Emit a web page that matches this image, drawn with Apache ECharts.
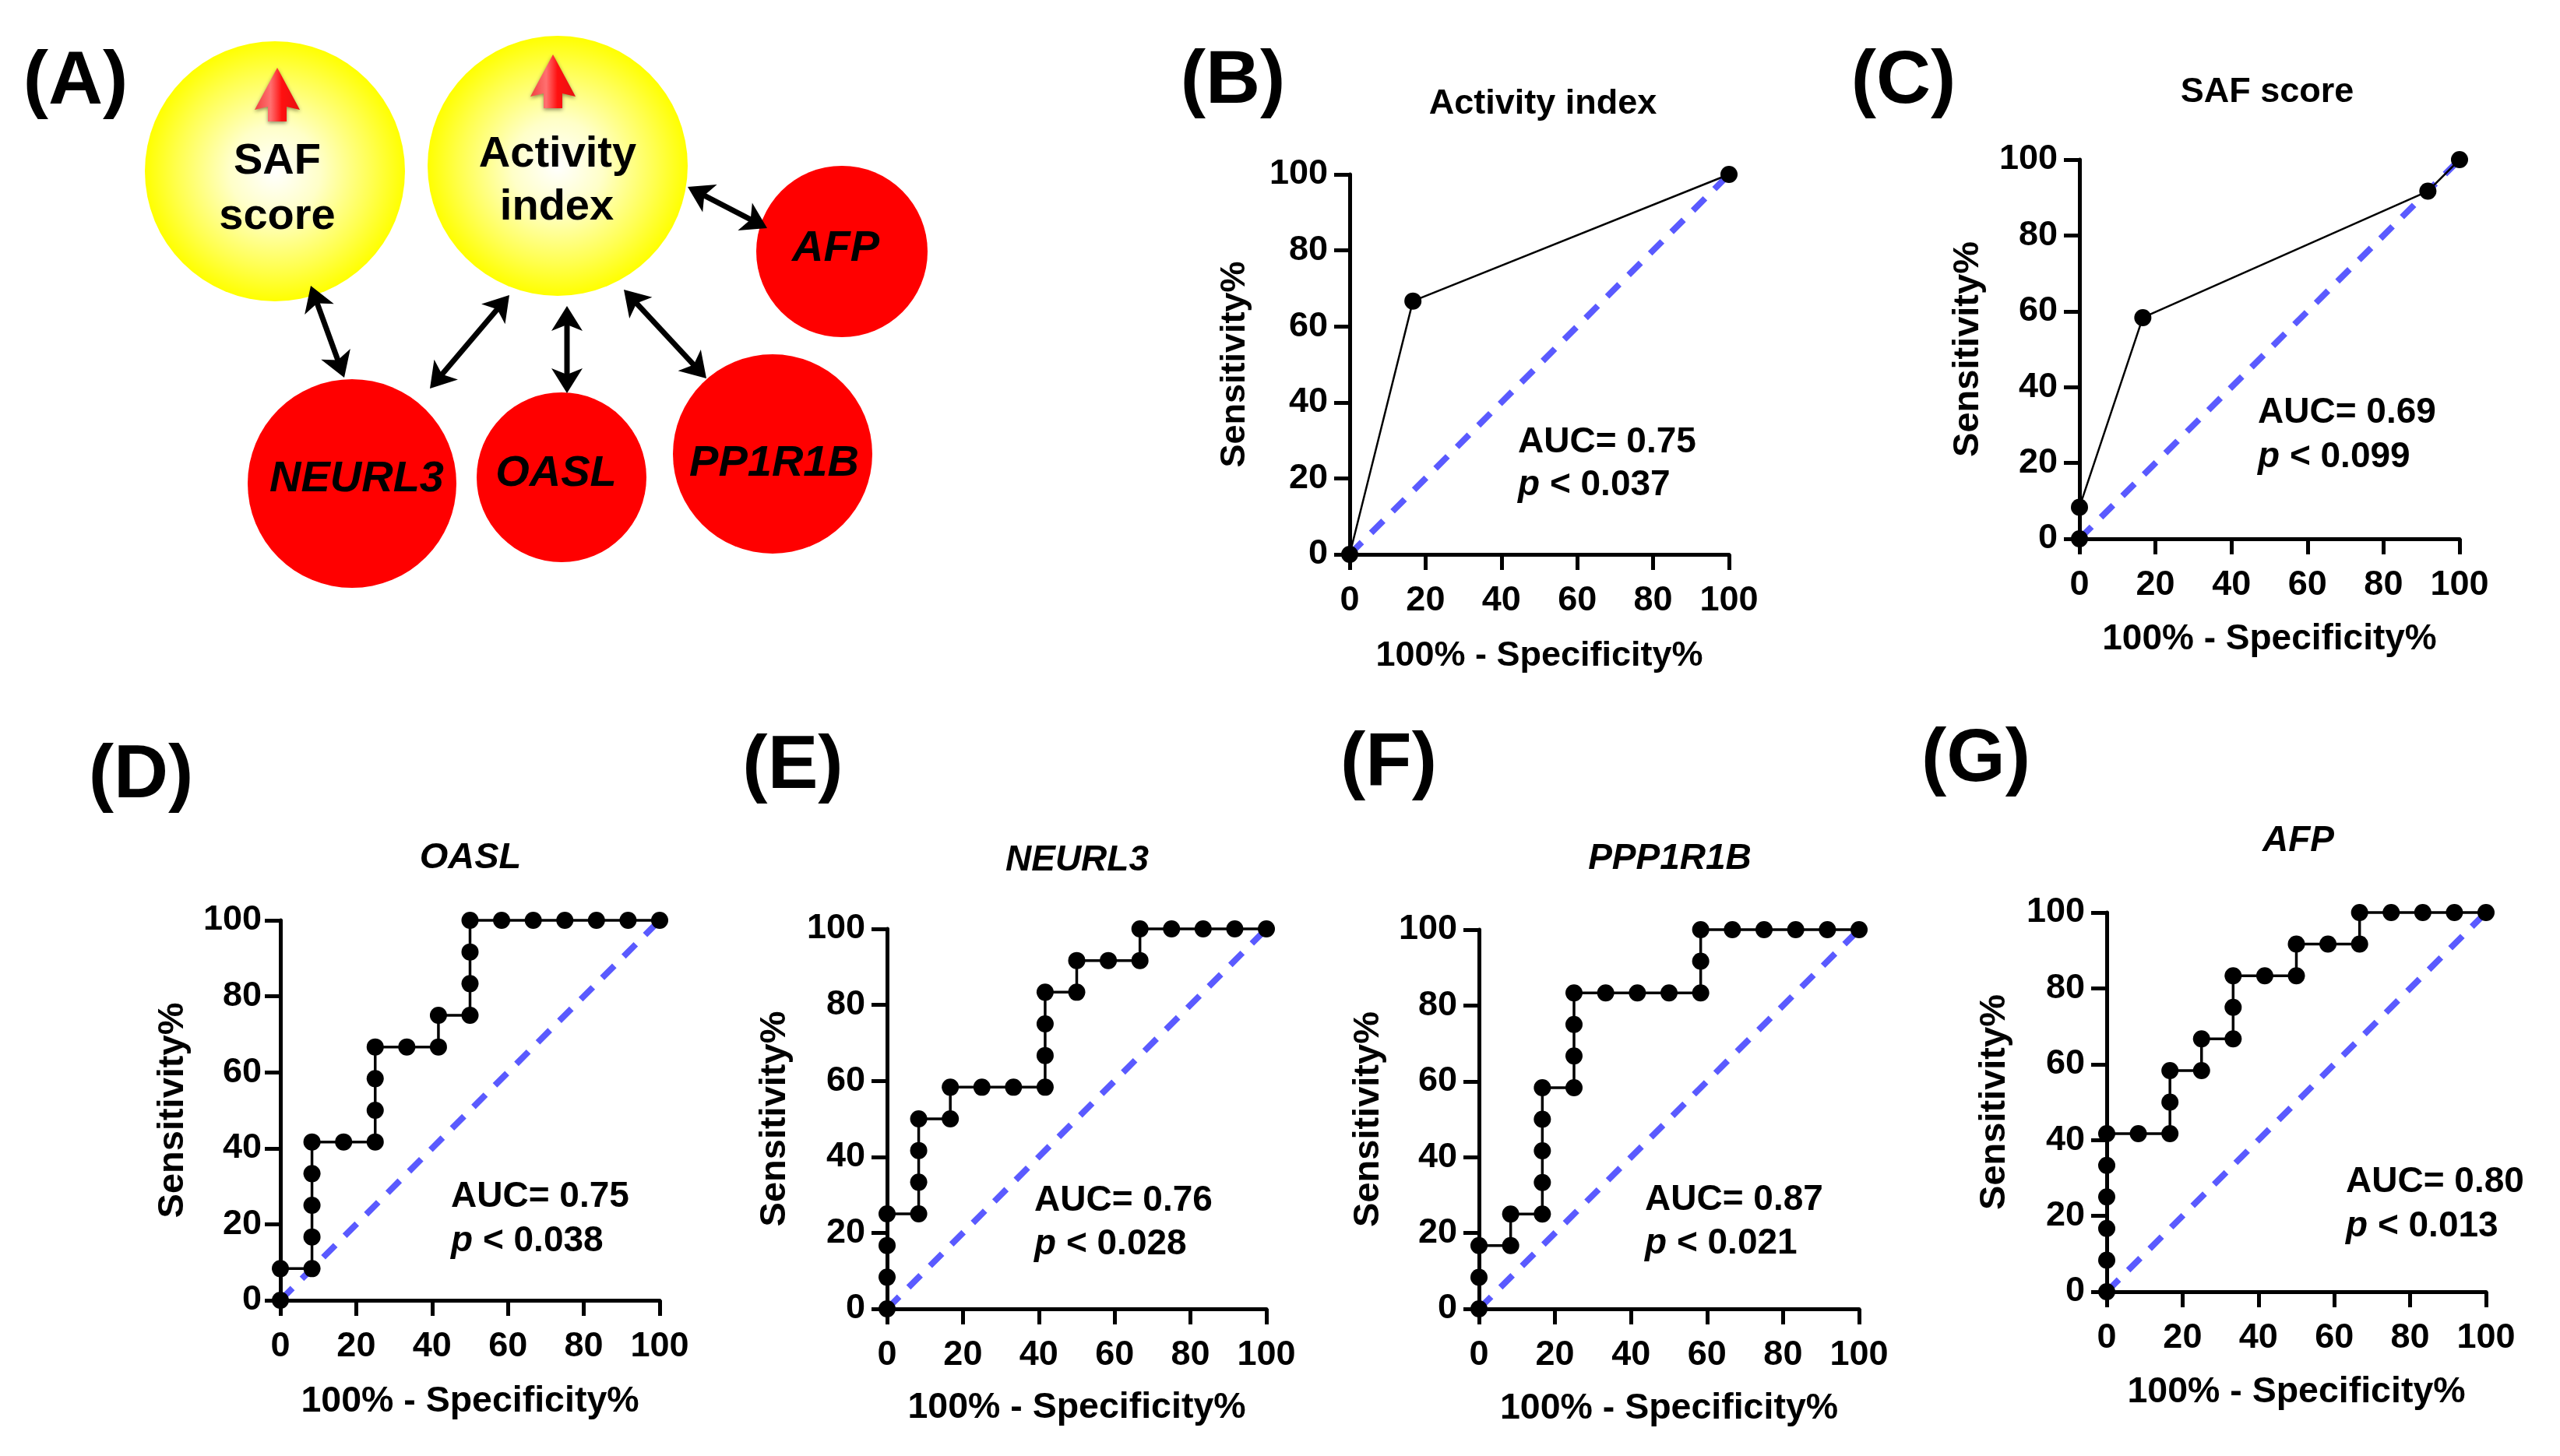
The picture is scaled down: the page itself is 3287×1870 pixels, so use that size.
<!DOCTYPE html>
<html><head><meta charset="utf-8">
<style>html,body{margin:0;padding:0;background:#fff}#c{width:3287px;height:1870px}</style>
<script src="https://cdn.jsdelivr.net/npm/echarts@6/dist/echarts.min.js"></script>
</head><body><div id="c"></div>
<script>
// ---- values ----
const tickLabels = [0,20,40,60,80,100];
const xName = '100% - Specificity%';
const yName = 'Sensitivity%';
const refLine = [[0,0],[100,100]];

const activityX = [0,16.67,100];
const activityY = [0,66.67,100];
const safX = [0,0,16.67,91.67,100];
const safY = [0,8.33,58.33,91.67,100];
const oaslX = [0,0,8.33,8.33,8.33,8.33,8.33,16.67,25,25,25,25,33.33,41.67,41.67,50,50,50,50,58.33,66.67,75,83.33,91.67,100];
const oaslY = [0,8.33,8.33,16.67,25,33.33,41.67,41.67,41.67,50,58.33,66.67,66.67,66.67,75,75,83.33,91.67,100,100,100,100,100,100,100];
const neurl3X = [0,0,0,0,8.33,8.33,8.33,8.33,16.67,16.67,25,33.33,41.67,41.67,41.67,41.67,50,50,58.33,66.67,66.67,75,83.33,91.67,100];
const neurl3Y = [0,8.33,16.67,25,25,33.33,41.67,50,50,58.33,58.33,58.33,58.33,66.67,75,83.33,83.33,91.67,91.67,91.67,100,100,100,100,100];
const ppp1r1bX = [0,0,0,8.33,8.33,16.67,16.67,16.67,16.67,16.67,25,25,25,25,33.33,41.67,50,58.33,58.33,58.33,66.67,75,83.33,91.67,100];
const ppp1r1bY = [0,8.33,16.67,16.67,25,25,33.33,41.67,50,58.33,58.33,66.67,75,83.33,83.33,83.33,83.33,83.33,91.67,100,100,100,100,100,100];
const afpX = [0,0,0,0,0,0,8.33,16.67,16.67,16.67,25,25,33.33,33.33,33.33,41.67,50,50,58.33,66.67,66.67,75,83.33,91.67,100];
const afpY = [0,8.33,16.67,25,33.33,41.67,41.67,41.67,50,58.33,58.33,66.67,66.67,75,83.33,83.33,83.33,91.67,91.67,91.67,100,100,100,100,100];

const titles = ['Activity index','SAF score','OASL','NEURL3','PPP1R1B','AFP'];
const aucTexts = ['AUC= 0.75','AUC= 0.69','AUC= 0.75','AUC= 0.76','AUC= 0.87','AUC= 0.80'];
const pTexts = ['< 0.037','< 0.099','< 0.038','< 0.028','< 0.021','< 0.013'];
const panelLetters = ['(A)','(B)','(C)','(D)','(E)','(F)','(G)'];

// ---- layout ----
const FONT = '"Liberation Sans", Arial, sans-serif';
const seriesX = [activityX,safX,oaslX,neurl3X,ppp1r1bX,afpX];
const seriesY = [activityY,safY,oaslY,neurl3Y,ppp1r1bY,afpY];
const boxes = [
 {x0:1733,x1:2220,y1:224,y0:712,tx:1976,ty:129,ax:1949,ay:568,py:623,xg:108,yg:125,lm:28,lw:2.5,it:false,xf:45,yf:45,tf:45},
 {x0:2670,x1:3158,y1:205,y0:692,tx:2906,ty:114,ax:2899,ay:530,py:587,xg:106,yg:119,lm:28,lw:2.5,it:false,xf:46,yf:47,tf:45},
 {x0:360,x1:847,y1:1182,y0:1670,tx:599,ty:1097,ax:579,ay:1537,py:1594,xg:107,yg:114,lm:24,lw:3.5,it:true,xf:46.5,yf:47,tf:47},
 {x0:1139,x1:1626,y1:1193,y0:1681,tx:1378,ty:1100,ax:1328,ay:1542,py:1598,xg:104,yg:120,lm:28,lw:3.5,it:true,xf:46.5,yf:47,tf:46},
 {x0:1899,x1:2387,y1:1194,y0:1681,tx:2139,ty:1098,ax:2112,ay:1541,py:1597,xg:105,yg:118,lm:28,lw:3.5,it:true,xf:46.5,yf:47,tf:46},
 {x0:2705,x1:3192,y1:1172,y0:1659,tx:2946,ty:1075,ax:3012,ay:1518,py:1575,xg:106,yg:120,lm:28,lw:3.5,it:true,xf:46.5,yf:47,tf:46}
];
const letterPos = [[97,106],[1583,105],[2444,105],[181,997],[1018,985],[1783,981],[2537,976]];
const yellowNodes = [
 {cx:353,cy:220,r:167,lines:[['SAF',356,208],['score',356,279]],up:[356,87,156]},
 {cx:716,cy:213,r:167,lines:[['Activity',716,199],['index',715,267]],up:[710,70,139]}
];
const redNodes = [
 {cx:1081,cy:323,r:110,t:'AFP',lx:1073,ly:320},
 {cx:452,cy:621,r:134,t:'NEURL3',lx:458,ly:616},
 {cx:721,cy:613,r:109,t:'OASL',lx:714,ly:609},
 {cx:992,cy:583,r:128,t:'PP1R1B',lx:994,ly:596}
];
const links = [[399,367,442,485],[654,379,552,499],[728,393,728,505],[801,372,907,486],[883,240,985,293]];

const grid=[],xAxis=[],yAxis=[],series=[],title=[],graphic=[];
boxes.forEach((b,i)=>{
  grid.push({left:b.x0,top:b.y1,width:b.x1-b.x0,height:b.y0-b.y1,containLabel:false});
  const base = {
    gridIndex:i,type:'value',min:0,max:100,interval:20,splitLine:{show:false},
    nameLocation:'middle',
    axisLine:{show:true,onZero:false,lineStyle:{color:'#000',width:5}},
    axisTick:{show:true,length:20,lineStyle:{color:'#000',width:5}},
    axisLabel:{fontFamily:FONT,fontWeight:'bold',fontSize:45,color:'#000',hideOverlap:false,
      formatter:v=>String(tickLabels[Math.round(v/20)])}
  };
  const nameStyle=f=>({fontFamily:FONT,fontWeight:'bold',fontSize:f,color:'#000'});
  xAxis.push({...base,position:'bottom',name:xName,nameGap:b.xg,nameTextStyle:nameStyle(b.xf),axisLabel:{...base.axisLabel,margin:37}});
  yAxis.push({...base,position:'left',name:yName,nameGap:b.yg,nameTextStyle:nameStyle(b.yf),axisLabel:{...base.axisLabel,margin:b.lm}});
  series.push({type:'line',xAxisIndex:i,yAxisIndex:i,data:refLine,showSymbol:false,silent:true,clip:false,z:2,
    lineStyle:{color:'#5a5aff',width:8,type:[22,17]}});
  series.push({type:'line',xAxisIndex:i,yAxisIndex:i,data:seriesX[i].map((x,k)=>[x,seriesY[i][k]]),
    symbol:'circle',symbolSize:22,showSymbol:true,showAllSymbol:true,clip:false,z:3,animation:false,
    itemStyle:{color:'#000'},lineStyle:{color:'#000',width:b.lw}});
  title.push({text:titles[i],left:b.tx,top:b.ty-23,textAlign:'center',
    textStyle:{fontFamily:FONT,fontWeight:'bold',fontStyle:b.it?'italic':'normal',fontSize:b.tf,color:'#000'}});
  graphic.push({type:'text',z:10,style:{text:aucTexts[i],x:b.ax,y:b.ay,font:'bold 46px '+FONT,fill:'#000',verticalAlign:'middle',align:'left'}});
  graphic.push({type:'text',z:10,style:{text:'{i|p} '+pTexts[i],x:b.ax,y:b.py,font:'bold 46px '+FONT,fill:'#000',verticalAlign:'middle',align:'left',
    rich:{i:{font:'italic bold 46px '+FONT,fill:'#000'}}}});
});

panelLetters.forEach((t,i)=>graphic.push({type:'text',z:10,style:{text:t,x:letterPos[i][0],y:letterPos[i][1],
  font:'bold 97px '+FONT,fill:'#000',align:'center',verticalAlign:'middle'}}));

yellowNodes.forEach(n=>{
  graphic.push({type:'circle',z:5,shape:{cx:n.cx,cy:n.cy,r:n.r},style:{fill:{type:'radial',x:.5,y:.5,r:.5,
    colorStops:[{offset:0,color:'#ffffff'},{offset:.35,color:'#ffffc8'},{offset:.75,color:'#ffff50'},{offset:1,color:'#ffff00'}]}}});
  const [ux,uy,ub]=n.up;
  graphic.push({type:'polygon',z:6,shape:{points:[[ux,uy],[ux+29,uy+54],[ux+12,uy+50],[ux+12,ub],[ux-12,ub],[ux-12,uy+50],[ux-29,uy+54]]},
    style:{fill:{type:'linear',x:0,y:0,x2:1,y2:0,colorStops:[{offset:0,color:'#f04040'},{offset:.35,color:'#ff7070'},{offset:.6,color:'#ff1010'},{offset:1,color:'#e81010'}]},
      shadowBlur:5,shadowColor:'rgba(0,0,0,.45)',shadowOffsetY:2}});
  n.lines.forEach(l=>graphic.push({type:'text',z:7,style:{text:l[0],x:l[1],y:l[2],font:'bold 56px '+FONT,fill:'#000',align:'center',verticalAlign:'middle'}}));
});
redNodes.forEach(n=>{
  graphic.push({type:'circle',z:5,shape:{cx:n.cx,cy:n.cy,r:n.r},style:{fill:'#ff0000'}});
  graphic.push({type:'text',z:7,style:{text:n.t,x:n.lx,y:n.ly,font:'italic bold 56px '+FONT,fill:'#000',align:'center',verticalAlign:'middle'}});
});
links.forEach(([x1,y1,x2,y2])=>{
  const d=Math.hypot(x2-x1,y2-y1),ux=(x2-x1)/d,uy=(y2-y1)/d,h=32,w=20;
  graphic.push({type:'line',z:6,shape:{x1:x1+ux*h*.7,y1:y1+uy*h*.7,x2:x2-ux*h*.7,y2:y2-uy*h*.7},style:{stroke:'#000',lineWidth:7}});
  const head=(tx,ty,sx,sy)=>graphic.push({type:'polygon',z:6,shape:{points:[[tx,ty],
    [tx+sx*h-sy*w,ty+sy*h+sx*w],[tx+sx*h*.75,ty+sy*h*.75],[tx+sx*h+sy*w,ty+sy*h-sx*w]]},style:{fill:'#000'}});
  head(x1,y1,ux,uy); head(x2,y2,-ux,-uy);
});

const chart = echarts.init(document.getElementById('c'),null,{width:3287,height:1870});
chart.setOption({animation:false,backgroundColor:'#fff',title,grid,xAxis,yAxis,series,graphic:{elements:graphic}});
</script></body></html>
